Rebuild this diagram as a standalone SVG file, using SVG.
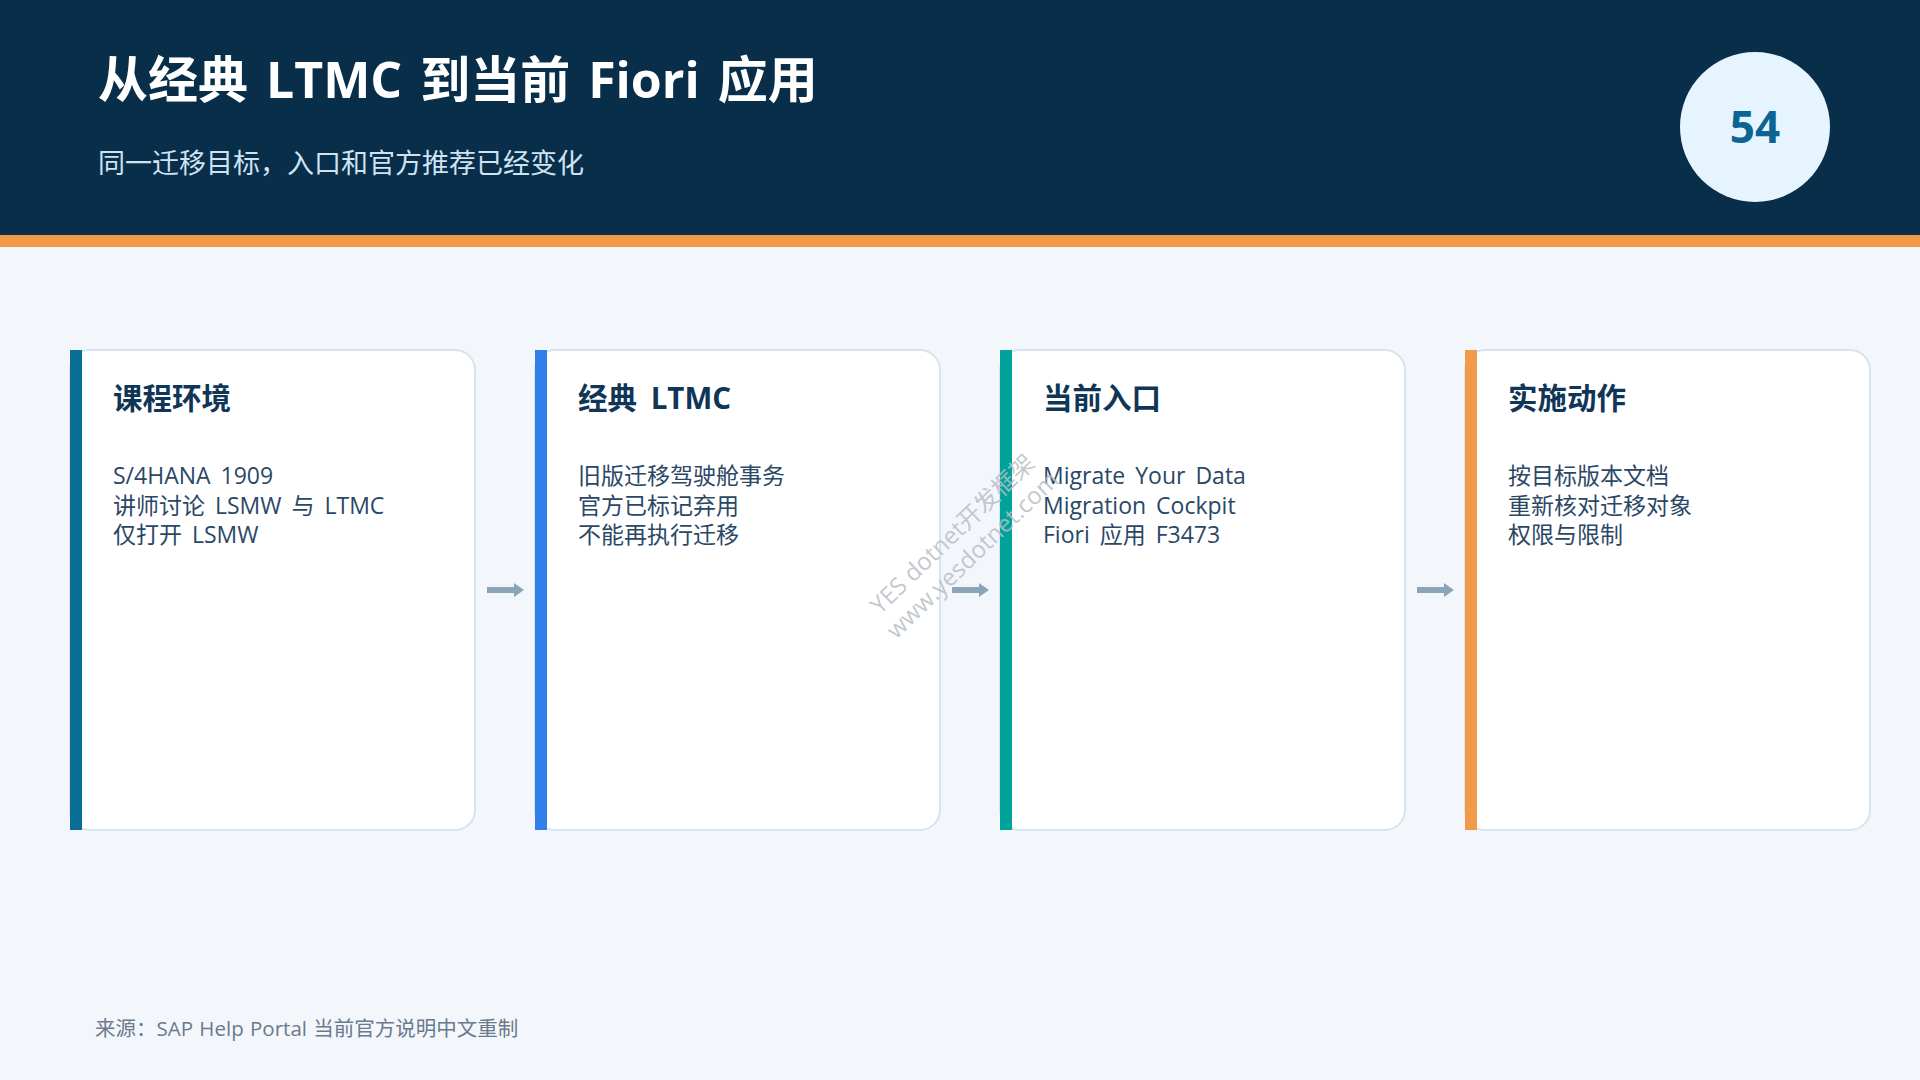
<svg xmlns="http://www.w3.org/2000/svg" width="1920" height="1080" viewBox="0 0 1920 1080">
  <style>
    .bg { fill: #F3F7FC; }
    .card { fill: #FFFFFF; stroke: #D6E3F0; stroke-width: 2; }
    .ctitle { font-family: "Open Sans", "Noto Sans CJK SC", sans-serif; font-weight: 700; font-size: 29.5px; word-spacing: 6px; fill: #0F3557; }
    .cbody { font-family: "Open Sans", "Noto Sans CJK SC", sans-serif; font-size: 23px; word-spacing: 4px; fill: #2B4766; }
    .conn { stroke: #8BA5B8; stroke-width: 6; fill: none; marker-end: url(#arrow); }
    .wm { font-family: "Open Sans", "Noto Sans CJK SC", sans-serif; font-size: 24px; fill: #B8BEC6; fill-opacity: 0.85; text-anchor: middle; }
  </style>
  <defs>
    <marker id="arrow" markerUnits="userSpaceOnUse" markerWidth="10" markerHeight="14" refX="0" refY="7" orient="auto">
      <path d="M0,0 L10,7 L0,14 z" fill="#8BA5B8"/>
    </marker>
  </defs>

  <rect class="bg" x="0" y="0" width="1920" height="1080"/>

  <g id="header">
    <rect x="0" y="0" width="1920" height="235" fill="#082E4A"/>
    <rect x="0" y="235" width="1920" height="12" fill="#F39A4A"/>
    <text x="98" y="98" font-family="'Open Sans', 'Noto Sans CJK SC', sans-serif" font-weight="700" font-size="50" word-spacing="5" fill="#FFFFFF">从经典 LTMC 到当前 Fiori 应用</text>
    <text x="98" y="173" font-family="'Open Sans', 'Noto Sans CJK SC', sans-serif" font-size="27" fill="#CFE3F3">同一迁移目标，入口和官方推荐已经变化</text>
  </g>

  <g id="badge">
    <circle cx="1755" cy="127" r="75" fill="#E6F4FF"/>
    <text x="1755" y="143" text-anchor="middle" font-family="'Open Sans', 'Noto Sans CJK SC', sans-serif" font-weight="700" font-size="44" fill="#0B6491">54</text>
  </g>

  <g id="node-1">
    <rect class="card" x="70" y="350" width="405" height="480" rx="20"/>
    <rect x="70" y="350" width="12" height="480" fill="#0B6E99"/>
    <text class="ctitle" x="113" y="409">课程环境</text>
    <text class="cbody" x="113" y="484">S/4HANA 1909</text>
    <text class="cbody" x="113" y="513.5">讲师讨论 LSMW 与 LTMC</text>
    <text class="cbody" x="113" y="543">仅打开 LSMW</text>
  </g>

  <g id="node-2">
    <rect class="card" x="535" y="350" width="405" height="480" rx="20"/>
    <rect x="535" y="350" width="12" height="480" fill="#2F80ED"/>
    <text class="ctitle" x="578" y="409">经典 LTMC</text>
    <text class="cbody" x="578" y="484">旧版迁移驾驶舱事务</text>
    <text class="cbody" x="578" y="513.5">官方已标记弃用</text>
    <text class="cbody" x="578" y="543">不能再执行迁移</text>
  </g>

  <g id="node-3">
    <rect class="card" x="1000" y="350" width="405" height="480" rx="20"/>
    <rect x="1000" y="350" width="12" height="480" fill="#00A39A"/>
    <text class="ctitle" x="1043" y="409">当前入口</text>
    <text class="cbody" x="1043" y="484">Migrate Your Data</text>
    <text class="cbody" x="1043" y="513.5">Migration Cockpit</text>
    <text class="cbody" x="1043" y="543">Fiori 应用 F3473</text>
  </g>

  <g id="node-4">
    <rect class="card" x="1465" y="350" width="405" height="480" rx="20"/>
    <rect x="1465" y="350" width="12" height="480" fill="#F39A4A"/>
    <text class="ctitle" x="1508" y="409">实施动作</text>
    <text class="cbody" x="1508" y="484">按目标版本文档</text>
    <text class="cbody" x="1508" y="513.5">重新核对迁移对象</text>
    <text class="cbody" x="1508" y="543">权限与限制</text>
  </g>

  <g id="connectors">
    <line class="conn" x1="487" y1="590" x2="514" y2="590"/>
    <line class="conn" x1="952" y1="590" x2="979" y2="590"/>
    <line class="conn" x1="1417" y1="590" x2="1444" y2="590"/>
  </g>

  <g id="footer">
    <text x="95" y="1036" font-family="'Open Sans', 'Noto Sans CJK SC', sans-serif" font-size="20.5" word-spacing="1" fill="#6B7A8C">来源：SAP Help Portal 当前官方说明中文重制</text>
  </g>

  <g id="watermark" transform="translate(958,540) rotate(-44)">
    <text class="wm" x="0" y="0">YES dotnet开发框架</text>
    <text class="wm" x="0" y="29">www.yesdotnet.com</text>
  </g>
</svg>
